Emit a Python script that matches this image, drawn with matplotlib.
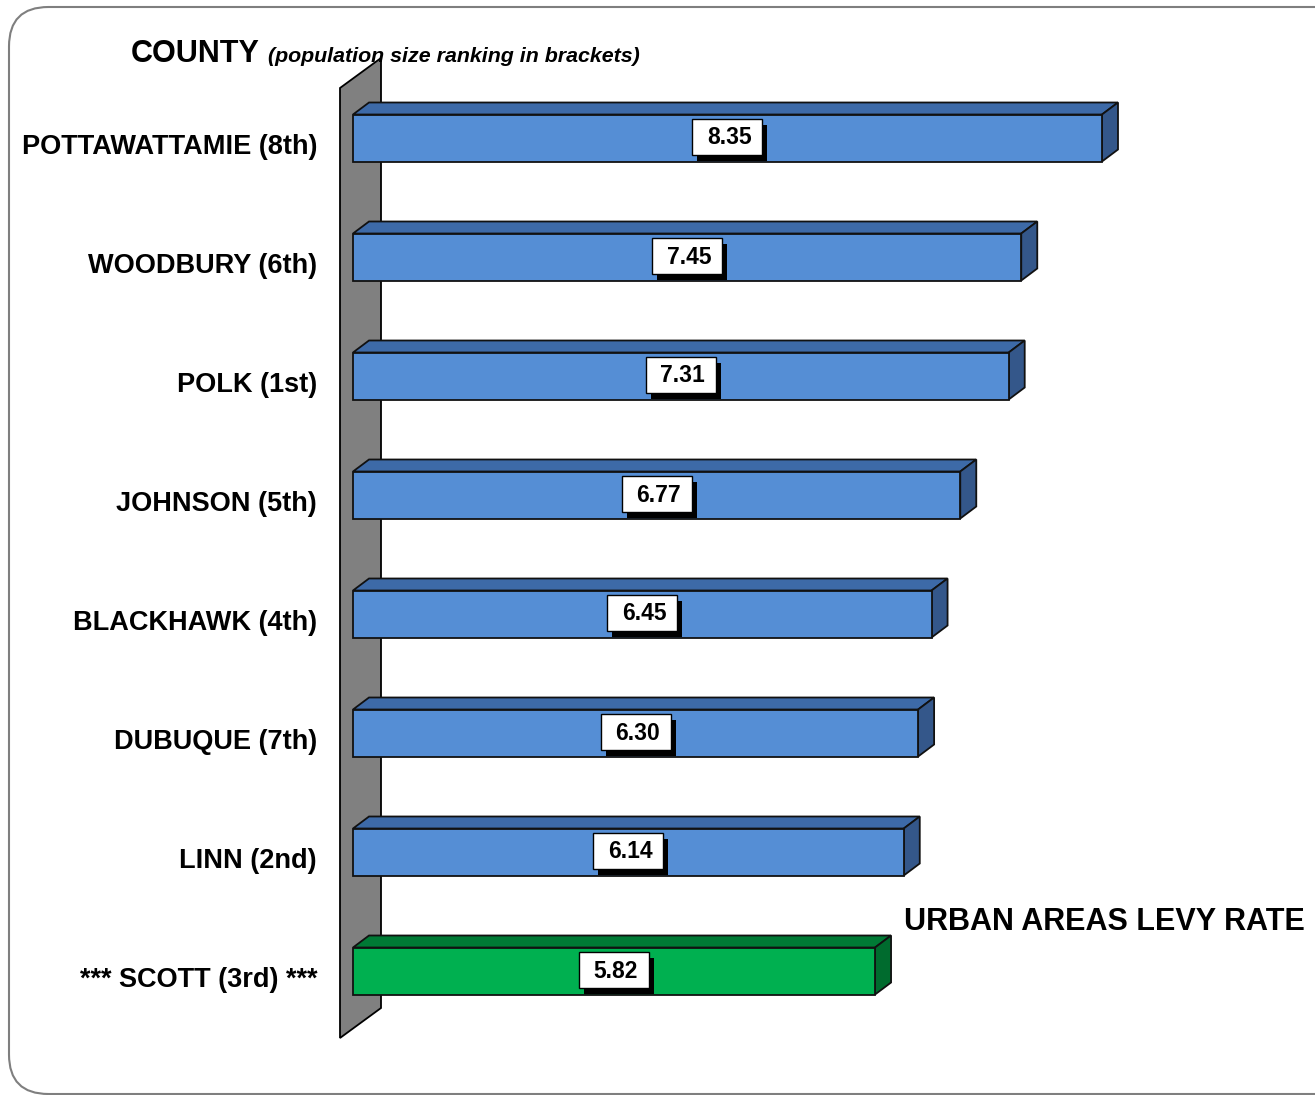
import matplotlib
matplotlib.use("Agg")
import matplotlib.pyplot as plt
from matplotlib.patches import Polygon, Rectangle, FancyBboxPatch

plt.rcParams.update({"font.family": ["Liberation Sans", "DejaVu Sans"]})

counties = ["POTTAWATTAMIE (8th)", "WOODBURY (6th)", "POLK (1st)", "JOHNSON (5th)",
            "BLACKHAWK (4th)", "DUBUQUE (7th)", "LINN (2nd)", "*** SCOTT (3rd) ***"]
rates = [8.35, 7.45, 7.31, 6.77, 6.45, 6.30, 6.14, 5.82]
highlight = [False] * 7 + [True]

BLUE = ("#558ed5", "#3d6aa8", "#34578a")   # front, top, side
GREEN = ("#00b050", "#007a35", "#006b2e")
WALL = "#808080"

W, H = 1315, 1095
fig = plt.figure(figsize=(W / 100, H / 100), dpi=100)
ax = fig.add_axes([0, 0, 1, 1])
# pixel layout: value 0 at x=353, 89.7 px per unit; rows 119 px apart, first centre y=138
PX, X0, PY, Y0 = 89.7, 353, 119, 138
ax.set_xlim(-X0 / PX, (W - X0) / PX)
ax.set_ylim((H - Y0) / PY, -Y0 / PY)
ax.axis("off")

dx, dy = 16 / PX, -12 / PY   # depth of bars
bh = 47 / PY                 # bar height
lw_, lh_ = 70 / PX, 36 / PY  # value label box
sx, sy = 5 / PX, 6 / PY      # label shadow offset

# back wall
wl, wr = (340 - X0) / PX, (381 - X0) / PX
ax.add_patch(Polygon([(wl, (88 - Y0) / PY), (wr, (58 - Y0) / PY), (wr, (1008 - Y0) / PY),
                      (wl, (1038 - Y0) / PY)], closed=True, fc=WALL, ec="black", lw=1.3, zorder=1))

for i, (name, v, hl) in enumerate(zip(counties, rates, highlight)):
    front, top, side = GREEN if hl else BLUE
    y0, y1 = i - bh / 2, i + bh / 2
    ax.add_patch(Polygon([(0, y0), (dx, y0 + dy), (v + dx, y0 + dy), (v, y0)],
                         closed=True, fc=top, ec="#111", lw=1.3, zorder=2))
    ax.add_patch(Polygon([(v, y0), (v + dx, y0 + dy), (v + dx, y1 + dy), (v, y1)],
                         closed=True, fc=side, ec="#111", lw=1.3, zorder=2))
    ax.add_patch(Polygon([(0, y0), (v, y0), (v, y1), (0, y1)],
                         closed=True, fc=front, ec="#111", lw=1.3, zorder=3))
    # value label box with drop shadow
    bx, by = v / 2 - lw_ / 2, i - lh_ / 2 - 1 / PY
    ax.add_patch(Rectangle((bx + sx, by + sy), lw_, lh_, fc="black", ec="none", zorder=4))
    ax.add_patch(Rectangle((bx, by), lw_, lh_, fc="white", ec="black", lw=1, zorder=5))
    ax.text(v / 2 + 2 / PX, i, f"{v:.2f}", ha="center", va="center", fontsize=16.5,
            weight="bold", color="black", zorder=6)
    ax.text((317 - X0) / PX, i + 9 / PY, name, ha="right", va="center", fontsize=19.5,
            weight="bold", color="black")

fig.text(131 / W, 1 - 54 / H, "COUNTY", fontsize=22, weight="bold", va="center", ha="left")
fig.text(268 / W, 1 - 57 / H, "(population size ranking in brackets)", fontsize=15.4,
         weight="bold", style="italic", va="center", ha="left")
fig.text(904 / W, 1 - 922 / H, "URBAN AREAS LEVY RATE", fontsize=22, weight="bold",
         va="center", ha="left")

# rounded frame
fig.patches.append(FancyBboxPatch((9 / W, 1 / H), 1.05, 1 - 8 / H,
                                  boxstyle="round,pad=0,rounding_size=0.03",
                                  transform=fig.transFigure, fc="none", ec="#7f7f7f", lw=1.5,
                                  mutation_aspect=W / H))

fig.savefig("out.png", dpi=100)
